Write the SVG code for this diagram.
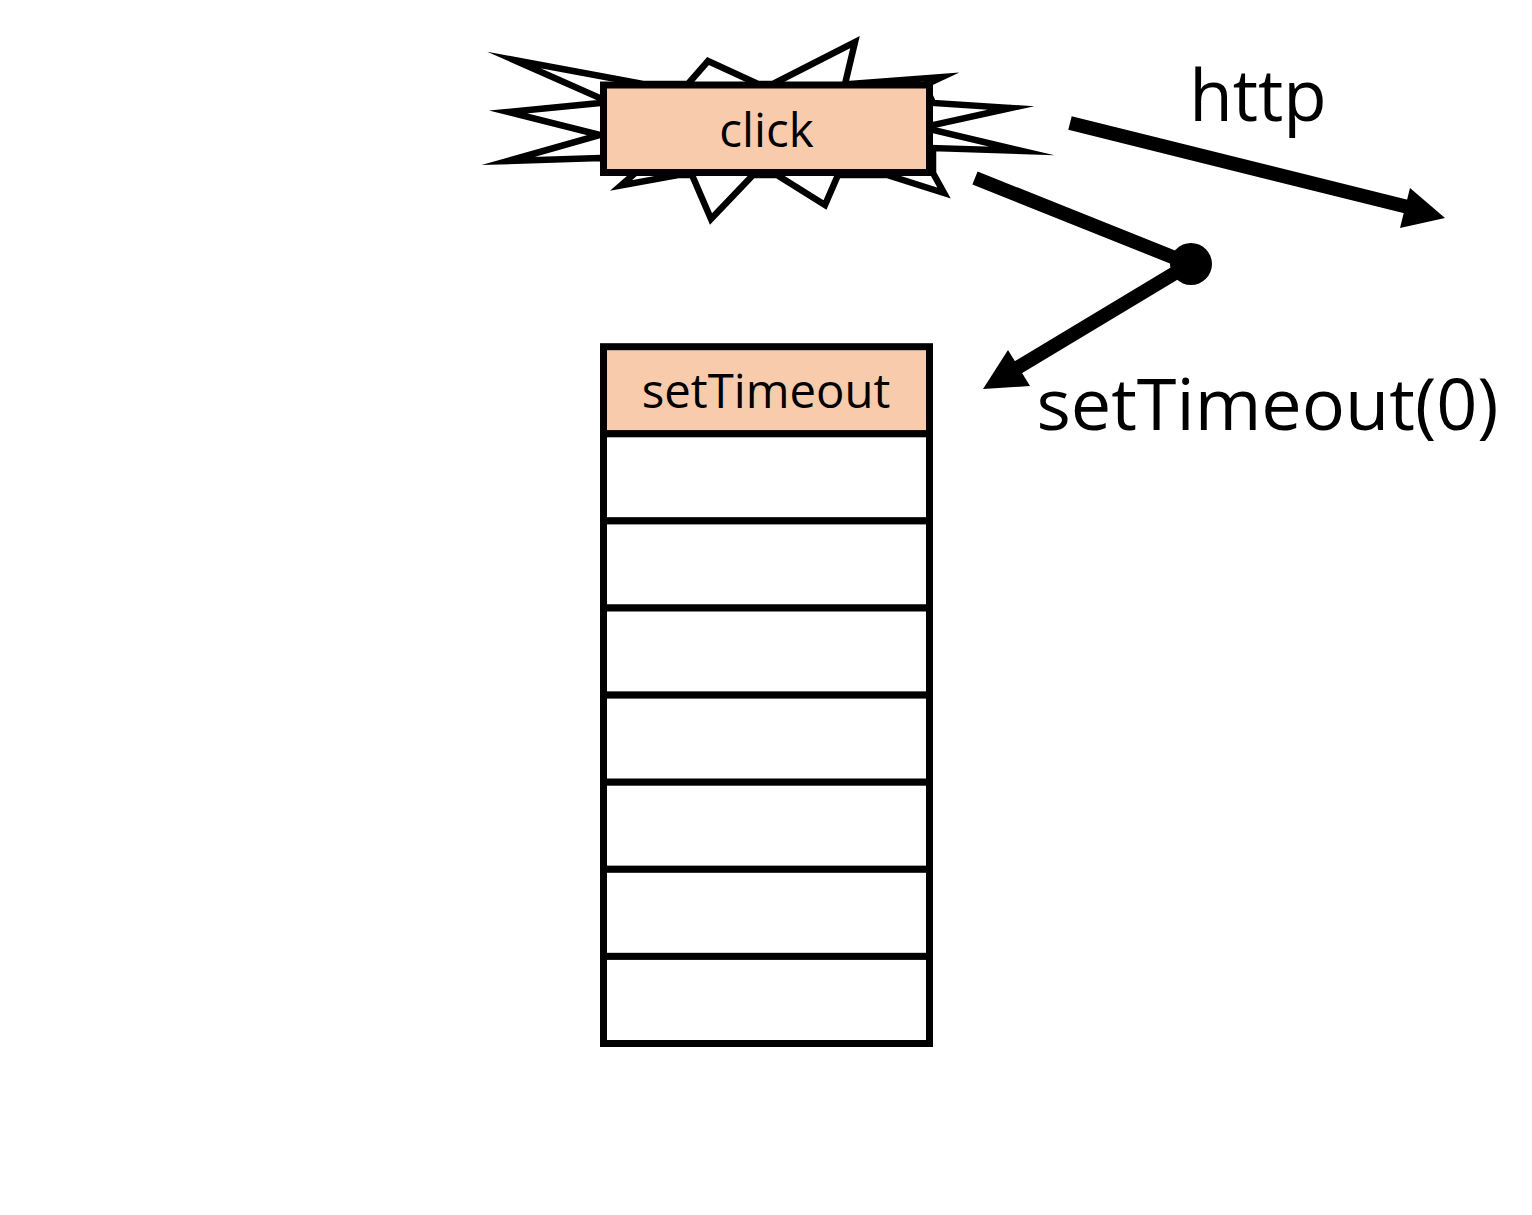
<svg xmlns="http://www.w3.org/2000/svg" width="1532" height="1215" viewBox="0 0 1532 1215">
<style>
.f{fill:#f8cbad;stroke:#000;stroke-width:7}
.w{fill:#fff;stroke:#000;stroke-width:7}
.t{font-family:"Open Sans","Noto Sans",sans-serif;fill:#000;text-anchor:middle}
.c{fill:none;stroke:#000;stroke-width:14}
</style>
<rect width="1532" height="1215" fill="#fff"/>
<g id="burst">
<polygon points="514,60 643,84 688,84 708,61 758,84 773,84 855,42 845,84 850,84 942,77 925,85 933,103 1011,108 933,125 933,130 1022,151 933,148 933,173 944,193 887,175 838,175 825,205 777,175 753,175 711,219 692,175 678,175 621,185.5 633,175 600,158 508,161 600,135 508,112 600,103 600,98" fill="#fff" stroke="#000" stroke-width="6.5" stroke-miterlimit="30"/>
</g>
<g id="click">
<rect class="f" x="603.5" y="85" width="326" height="87.5"/>
<text class="t" x="766.5" y="147" font-size="47.5">click</text>
</g>
<g id="queue">
<rect class="f" x="603.5" y="346.7" width="326" height="87.1"/>
<text class="t" x="766" y="408" font-size="47.3">setTimeout</text>
<rect class="w" x="603.5" y="433.8" width="326" height="87.1"/>
<rect class="w" x="603.5" y="520.9" width="326" height="87.1"/>
<rect class="w" x="603.5" y="608" width="326" height="87.1"/>
<rect class="w" x="603.5" y="695.1" width="326" height="87.1"/>
<rect class="w" x="603.5" y="782.2" width="326" height="87.1"/>
<rect class="w" x="603.5" y="869.3" width="326" height="87.1"/>
<rect class="w" x="603.5" y="956.4" width="326" height="87.1"/>
</g>
<g id="connectors">
<path class="c" d="M1070,123 L1412,208"/>
<polygon points="1445,218 1400,228 1410,188"/>
<path class="c" d="M975,178 L1190,264 L1012,371"/>
<circle cx="1191" cy="264" r="21"/>
<polygon points="983,389 1008,350 1030,386"/>
</g>
<g id="labels">
<text class="t" x="1258" y="121" font-size="71">http</text>
<text class="t" x="1267.5" y="430" font-size="72">setTimeout(0)</text>
</g>
</svg>
